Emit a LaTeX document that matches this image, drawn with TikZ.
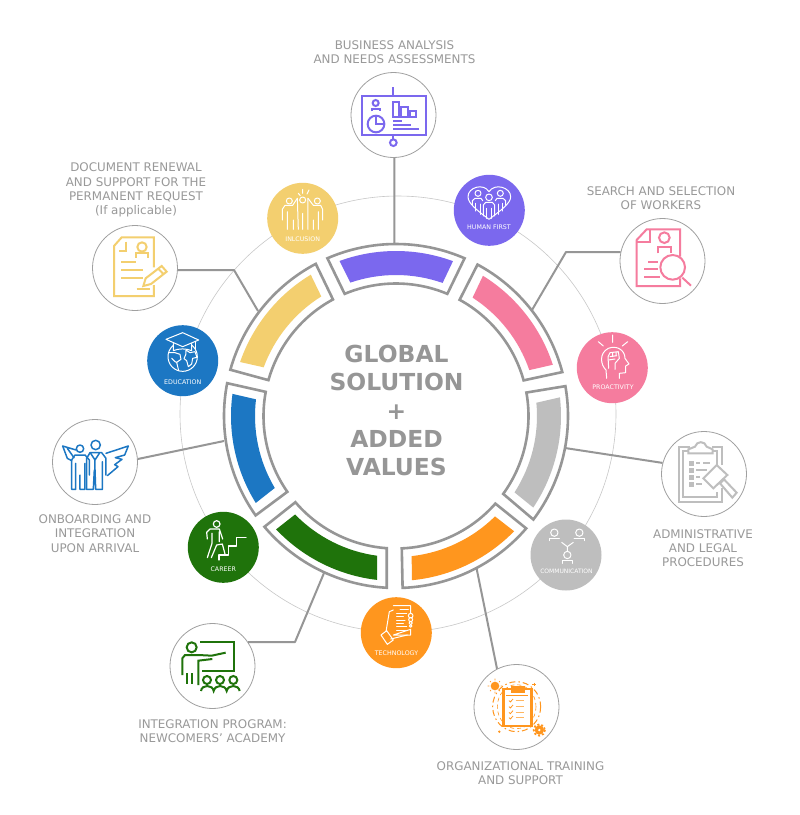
\documentclass[tikz,border=0pt]{standalone}
\usepackage{fontspec}
\setmainfont{DejaVu Sans}
\definecolor{cpurple}{HTML}{7B68EE}
\definecolor{cpink}{HTML}{F57C9E}
\definecolor{cgray}{HTML}{BEBEBE}
\definecolor{corange}{HTML}{FF961E}
\definecolor{cgreen}{HTML}{1F730B}
\definecolor{cblue}{HTML}{1C77C3}
\definecolor{cyellow}{HTML}{F3CF6F}
\definecolor{cframe}{HTML}{969696}
\definecolor{ctext}{HTML}{999999}
\newcommand\ringseg[5]{%
  \draw[frameline] (#1:172pt) arc[start angle=#1,end angle=#2,radius=172pt] -- (#4:132.5pt) arc[start angle=#4,end angle=#3,radius=132.5pt] -- cycle;
  \fill[#5] ({#1+3.3}:165pt) arc[start angle={#1+3.3},end angle={#2-3.5},radius=165pt] -- ({#2-4.6}:141pt) arc[start angle={#2-4.6},end angle={#1+4.2},radius=141pt] -- cycle;
}
\tikzset{
  frameline/.style={draw=cframe,line width=2.6pt,line join=miter,fill=white},
  linker/.style={draw=cframe,line width=2pt,line join=round},
  bigdisc/.style={circle,draw=cframe!90,line width=0.8pt,fill=white,minimum size=85pt,inner sep=0pt},
  smalldisc/.style={circle,fill=#1,minimum size=71pt,inner sep=0pt},
  smalltext/.style={text=white,font=\fontsize{6.3}{7}\selectfont,inner sep=0pt},
  caption/.style={text=ctext,font=\fontsize{11.9}{14.2}\selectfont,align=center,inner sep=0pt},
  headline/.style={text=cframe,font=\fontsize{23.4}{28.3}\bfseries\selectfont,align=center,inner sep=0pt},
  bold icon/.style={draw=#1,line width=2pt,line join=miter,line cap=butt},
  thin icon/.style={draw=white,line width=1pt,line join=round,line cap=round},
  blue icon/.style={draw=cblue,line width=1.5pt,line join=round,line cap=round},
  zoomed/.style={shift={#1},scale=1/3},
}
\begin{document}
\begin{tikzpicture}[x=1pt,y=-1pt]
\useasboundingbox (0,0) rectangle (800,815);
\fill[white] (0,0) rectangle (800,815);
% thin ring
\draw[cgray!85,line width=0.6pt] (398,414) circle[radius=218];
% connector coordinates
\coordinate (e1) at (394.5,244);
\coordinate (b2) at (234,270);
\coordinate (e2) at (258,311);
\coordinate (b3) at (566,252);
\coordinate (e3) at (532,310);
\coordinate (e4) at (565,448);
\coordinate (e5) at (476.5,568);
\coordinate (b6) at (295,642);
\coordinate (e6) at (324,573);
\coordinate (e7) at (224,441);
% big discs
\node[bigdisc] (n1) at (393.5,115) {};
\node[bigdisc] (n2) at (135,268) {};
\node[bigdisc] (n3) at (662.5,261) {};
\node[bigdisc] (n4) at (704,474) {};
\node[bigdisc] (n5) at (516.5,707) {};
\node[bigdisc] (n6) at (212.5,666) {};
\node[bigdisc] (n7) at (95,462) {};
% connectors
\draw[linker] (n1.-89) -- (e1);
\draw[linker] (n2.-3) -- (b2) -- (e2);
\draw[linker] (n3.168) -- (b3) -- (e3);
\draw[linker] (n4.165) -- (e4);
\draw[linker] (n5.117) -- (e5);
\draw[linker] (n6.34) -- (b6) -- (e6);
\draw[linker] (n7.4) -- (e7);
% ring
\begin{scope}[shift={(396,416)},y=1pt]
\ringseg{66.5}{113.5}{67.2}{112.8}{cpurple}
\ringseg{14.8}{61.7}{15.6}{61.3}{cpink}
\ringseg{-37}{10}{-36}{10.2}{cgray}
\ringseg{-87.8}{-40.8}{-87.5}{-41.4}{corange}
\ringseg{220.1}{266.9}{220.6}{266}{cgreen}
\ringseg{169}{215.3}{169.5}{214.9}{cblue}
\ringseg{117.8}{164.4}{118.4}{164.3}{cyellow}
\end{scope}
% small discs
\node[smalldisc=cpurple] (s1) at (489.3,210.3) {};
\node[smalldisc=cpink] (s2) at (612.3,367.7) {};
\node[smalldisc=cgray] (s3) at (566,555) {};
\node[smalldisc=corange] (s4) at (396.3,632.7) {};
\node[smalldisc=cgreen] (s5) at (223.3,547.3) {};
\node[smalldisc=cblue] (s6) at (182.7,360.7) {};
\node[smalldisc=cyellow] (s7) at (302.7,218.3) {};
\node[smalltext] (t1) at (489,227.3) {HUMAN FIRST};
\node[smalltext] (t2) at (613,386.7) {PROACTIVITY};
\node[smalltext,font=\fontsize{6}{7}\selectfont] (t3) at (566.5,571.7) {COMMUNICATION};
\node[smalltext] (t4) at (396.5,653.5) {TECHNOLOGY};
\node[smalltext] (t5) at (223.3,569) {CAREER};
\node[smalltext] (t6) at (182.7,381.7) {EDUCATION};
\node[smalltext] (t7) at (302.7,239.5) {INLCUSION};
% captions
\node[caption] (c1) at (394.5,52) {BUSINESS ANALYSIS\\AND NEEDS ASSESSMENTS};
\node[caption] (c2) at (136,190) {DOCUMENT RENEWAL\\AND SUPPORT FOR THE\\PERMANENT REQUEST\\(If applicable)};
\node[caption] (c3) at (661,198) {SEARCH AND SELECTION\\OF WORKERS};
\node[caption] (c4) at (703,548) {ADMINISTRATIVE\\AND LEGAL\\PROCEDURES};
\node[caption] (c5) at (520.5,773) {ORGANIZATIONAL TRAINING\\AND SUPPORT};
\node[caption] (c6) at (212.5,731.5) {INTEGRATION PROGRAM:\\NEWCOMERS' ACADEMY};
\node[caption] (c7) at (95,533.5) {ONBOARDING AND\\INTEGRATION\\UPON ARRIVAL};
\node[headline] (h) at (396.5,410.5) {GLOBAL\\SOLUTION\\+\\ADDED\\VALUES};
% ---- icon: business analysis
\begin{scope}[zoomed={(340,30)}]
\draw[bold icon=cpurple] (65,198) rectangle (257,316);
\draw[bold icon=cpurple] (160,172) -- (160,198) (160,316) -- (160,328);
\draw[bold icon=cpurple] (160,338) circle[radius=10];
\draw[bold icon=cpurple] (107,219) circle[radius=9];
\draw[bold icon=cpurple] (95,244) -- (95,237) -- (119,237) -- (119,244);
\draw[bold icon=cpurple] (108,282) circle[radius=25];
\draw[bold icon=cpurple] (108,258) -- (108,282) -- (133,282);
\draw[bold icon=cpurple] (158,216) rectangle (176,262);
\draw[bold icon=cpurple] (184,230) rectangle (203,262);
\draw[bold icon=cpurple] (210,244) rectangle (227,262);
\draw[bold icon=cpurple] (160,272) -- (187,272) (160,286) -- (213,286) (160,298) -- (237,298);
% human first
\draw[thin icon] (447,568) .. controls (410,540) and (384,520) .. (384,500) .. controls (384,472) and (430,458) .. (447,485) .. controls (464,458) and (512,472) .. (512,500) .. controls (512,520) and (484,540) .. cycle;
\draw[thin icon] (414,490) circle[radius=9] (447,502) circle[radius=10] (481,490) circle[radius=9];
\draw[thin icon] (430,558) -- (430,525) -- (437,517) -- (457,517) -- (464,525) -- (464,558);
\draw[thin icon] (440,535) -- (440,565) (454,535) -- (454,565);
\draw[thin icon] (397,525) -- (397,512) -- (405,505) -- (423,505) -- (428,512);
\draw[thin icon] (407,520) -- (407,543) (420,522) -- (420,553);
\draw[thin icon] (497,525) -- (497,512) -- (489,505) -- (471,505) -- (466,512);
\draw[thin icon] (487,520) -- (487,543) (474,522) -- (474,553);
\end{scope}
% ---- icons: document renewal, inclusion, education
\begin{scope}[zoomed={(80,170)}]
\draw[bold icon=cyellow] (222,292) -- (222,202) -- (125,202) -- (102,228) -- (102,378) -- (222,378) -- (222,345);
\draw[bold icon=cyellow] (137,215) -- (137,243) -- (118,243);
\draw[bold icon=cyellow] (186,231) circle[radius=14];
\draw[bold icon=cyellow] (167,263) -- (167,250) -- (205,250) -- (205,263);
\draw[bold icon=cyellow] (123,277) -- (168,277) (123,300) -- (188,300) (123,324) -- (188,324) (170,356) -- (210,356);
\draw[bold icon=cyellow,fill=white] (190,348) -- (197,325) -- (245,288) -- (260,305) -- (213,342) -- cycle;
\draw[bold icon=cyellow] (235,296) -- (250,312);
% inclusion
\draw[thin icon] (628,93) circle[radius=9] (668,90) circle[radius=9] (712,93) circle[radius=9];
\draw[thin icon] (655,70) -- (661,77) (668,58) -- (668,70) (687,60) -- (681,72);
\draw[thin icon] (607,150) -- (607,118) -- (615,106) -- (638,106) -- (652,85) (622,125) -- (622,178) (640,150) -- (640,178);
\draw[thin icon] (652,85) -- (655,178) (668,130) -- (668,178) (684,85) -- (684,178);
\draw[thin icon] (728,150) -- (728,118) -- (722,106) -- (700,106) -- (684,85) (715,125) -- (715,178) (700,150) -- (700,178);
% education
\draw[thin icon] (308,560) circle[radius=44];
\draw[thin icon] (266,548) -- (285,548) -- (300,553) -- (303,568) -- (290,577) -- (296,602);
\draw[thin icon] (275,565) -- (285,575) -- (290,577);
\draw[thin icon] (318,540) -- (330,548) -- (345,545) -- (351,562) -- (338,565) -- (335,582) -- (325,590) -- (320,572) -- (312,566) -- (318,552) -- cycle;
\draw[thin icon,fill=cblue] (280,520) -- (280,542) .. controls (295,535) and (320,535) .. (335,542) -- (335,520);
\draw[thin icon,fill=cblue] (258,508) -- (308,488) -- (356,510) -- (308,530) -- cycle;
\draw[thin icon] (346,514) -- (346,540);
\end{scope}
% ---- icons: search and selection, proactivity
\begin{scope}[zoomed={(560,210)}]
\draw[bold icon=cpink] (360,140) -- (360,58) -- (260,58) -- (230,90) -- (230,228) -- (360,228) -- (360,205);
\draw[bold icon=cpink] (270,60) -- (270,97) -- (232,97);
\draw[bold icon=cpink] (313,83) circle[radius=16];
\draw[bold icon=cpink] (293,130) -- (293,110) -- (333,110) -- (333,130);
\draw[bold icon=cpink] (265,157) -- (295,157) (252,178) -- (295,178) (252,200) -- (300,200);
\draw[bold icon=cpink] (338,172) circle[radius=37];
\draw[bold icon=cpink] (367,203) -- (393,227);
% proactivity
\draw[thin icon] (140,505) -- (138,480) .. controls (122,465) and (116,430) .. (145,415) .. controls (170,405) and (195,420) .. (195,445) -- (207,462) -- (197,468) -- (197,488) -- (178,490) -- (178,505);
\draw[thin icon] (146,475) -- (144,440) -- (150,428) -- (175,425) -- (178,445) -- (165,460) -- (165,478);
\draw[thin icon] (150,440) -- (170,437) (146,450) -- (165,447) (158,428) -- (158,440) (168,426) -- (168,438);
\draw[thin icon] (158,375) -- (158,397) (115,395) -- (130,408) (203,395) -- (187,408);
\end{scope}
% ---- icons: administrative, communication
\begin{scope}[zoomed={(520,420)}]
\draw[bold icon=cgray] (605,135) -- (605,80) -- (575,80) (510,80) -- (478,80) -- (478,245) -- (605,245) -- (605,205);
\draw[bold icon=cgray] (592,150) -- (592,93) -- (575,93) (505,93) -- (490,93) -- (490,232) -- (592,232) -- (592,215);
\draw[bold icon=cgray] (505,100) -- (505,88) -- (525,80) .. controls (530,62) and (555,62) .. (560,80) -- (578,88) -- (578,100) -- cycle;
\draw[cgray,fill=cgray] (507,125) rectangle (519,136) (507,145) rectangle (519,156) (507,167) rectangle (519,178) (507,187) rectangle (519,198);
\draw[bold icon=cgray] (528,130) -- (540,130) (550,130) -- (570,130) (528,150) -- (560,150) (528,172) -- (540,172) (528,192) -- (545,192);
\draw[bold icon=cgray,fill=white] (590,135) -- (622,165) -- (580,205) -- (550,175) -- cycle;
\draw[bold icon=cgray,fill=white] (600,190) -- (637,233) -- (650,218) -- (612,178) -- cycle;
% communication
\draw[thin icon] (103,338) circle[radius=11] (178,338) circle[radius=11] (142,405) circle[radius=11];
\draw[thin icon] (88,362) -- (88,354) -- (118,354) (162,354) -- (193,354) -- (193,362) (127,430) -- (127,421) -- (157,421) -- (157,430);
\draw[thin icon] (125,367) -- (142,380) -- (160,367) (142,380) -- (142,392);
\end{scope}
% ---- icons: technology, organisational training
\begin{scope}[zoomed={(350,590)}]
\draw[thin icon] (130,47) -- (182,47) -- (182,68) (182,118) -- (182,135) -- (130,135) -- cycle;
\draw[thin icon] (150,58) -- (175,58) (140,70) -- (170,70) (140,80) -- (160,80) (140,90) -- (165,90) (140,100) -- (160,100) (140,110) -- (170,110) (140,122) -- (172,122);
\draw[thin icon] (130,60) -- (118,65) -- (108,125) (93,135) -- (110,122) -- (130,150) -- (112,163) -- cycle;
\draw[thin icon] (122,147) -- (172,135);
\draw[thin icon] (182,77) circle[radius=7] (182,89) circle[radius=6] (182,99) circle[radius=5] (182,108) circle[radius=4];
% organisational training
\draw[corange,line width=1pt,dash pattern=on 6pt off 3pt on 1.5pt off 3pt] (500,350) ellipse[x radius=72,y radius=75];
\draw[corange,line width=0.6pt,dash pattern=on 4pt off 3pt] (500,350) ellipse[x radius=58,y radius=66];
\draw[corange,line width=2.6pt,fill=white] (460,297) rectangle (545,408);
\fill[corange] (482,288) rectangle (525,308);
\draw[corange,line width=0.7pt] (468,316) -- (535,316);
\foreach \yy in {332,350,367,383}{
  \draw[corange,line width=0.8pt] (477,\yy) -- (481,{\yy+4}) -- (489,{\yy-5});
  \draw[corange!70,line width=1.2pt] (497,\yy) -- (522,\yy);
}
\fill[corange] (435,288) circle[radius=13];
\draw[corange,line width=0.7pt] (435,266) -- (435,271) (435,305) -- (435,310) (413,288) -- (418,288) (452,288) -- (457,288) (420,273) -- (423,276) (447,300) -- (450,303) (450,273) -- (447,276) (420,303) -- (423,300);
\fill[corange] (568,420) circle[radius=14];
\draw[corange,line width=1.8pt,dash pattern=on 2pt off 2pt] (568,420) circle[radius=17];
\fill[white] (568,420) circle[radius=4];
\fill[corange] (448,425) circle[radius=4];
\draw[corange,line width=0.8pt] (552,278) -- (552,289) (547,283) -- (558,283);
\end{scope}
% ---- icons: career, integration program
\begin{scope}[zoomed={(160,505)}]
\draw[thin icon,line width=1.2pt] (170,57) circle[radius=10];
\draw[thin icon,line width=1.2pt] (142,102) -- (140,82) -- (150,72) -- (178,72) -- (188,102);
\draw[thin icon,line width=1.2pt] (142,158) -- (156,115) -- (156,85) (154,158) -- (170,120) -- (187,117) -- (195,147) (178,80) -- (178,110);
\draw[thin icon,line width=1.2pt] (177,165) -- (177,150) -- (205,150) -- (205,123) -- (230,123) -- (230,97) -- (258,97);
\draw[bold icon=cgreen] (120,410) -- (222,410) -- (222,498) -- (125,498);
\draw[bold icon=cgreen] (95,427) circle[radius=15];
\draw[bold icon=cgreen] (67,510) -- (67,460) -- (75,450) -- (115,450) -- (155,452) -- (197,443) (157,462) -- (115,467) -- (115,540);
\draw[bold icon=cgreen] (80,505) -- (80,538) (97,505) -- (97,538);
\draw[bold icon=cgreen] (141,525) circle[radius=12] (180,525) circle[radius=12] (220,525) circle[radius=12];
\draw[bold icon=cgreen] (123,558) .. controls (125,538) and (158,538) .. (161,558) .. controls (165,538) and (196,538) .. (200,558) .. controls (204,538) and (236,538) .. (239,558);
\end{scope}
% ---- icon: onboarding
\begin{scope}[zoomed={(40,410)}]
\draw[blue icon] (198,130) -- (265,108) -- (254,135) -- (226,143) -- (246,148) -- (224,164) -- (234,170) -- (202,197);
\draw[blue icon] (108,120) -- (68,108) -- (82,145) -- (95,152) (82,115) -- (102,143);
\draw[blue icon] (167,105) circle[radius=14] (120,116) circle[radius=11];
\draw[blue icon] (140,238) -- (140,145) -- (150,128) -- (185,128) -- (198,145) -- (198,195) (187,238) -- (187,155);
\draw[blue icon] (140,238) -- (160,238) -- (163,180) (187,238) -- (167,238) -- (165,180);
\draw[blue icon] (152,130) -- (165,150) -- (178,130) (165,150) -- (165,180);
\draw[blue icon] (95,238) -- (95,150) -- (105,135) -- (135,135) -- (148,150) -- (148,195) (107,238) -- (107,160) (120,238) -- (120,195) (135,238) -- (135,160) (95,238) -- (107,238) (120,238) -- (135,238);
\end{scope}
\end{tikzpicture}
\end{document}
